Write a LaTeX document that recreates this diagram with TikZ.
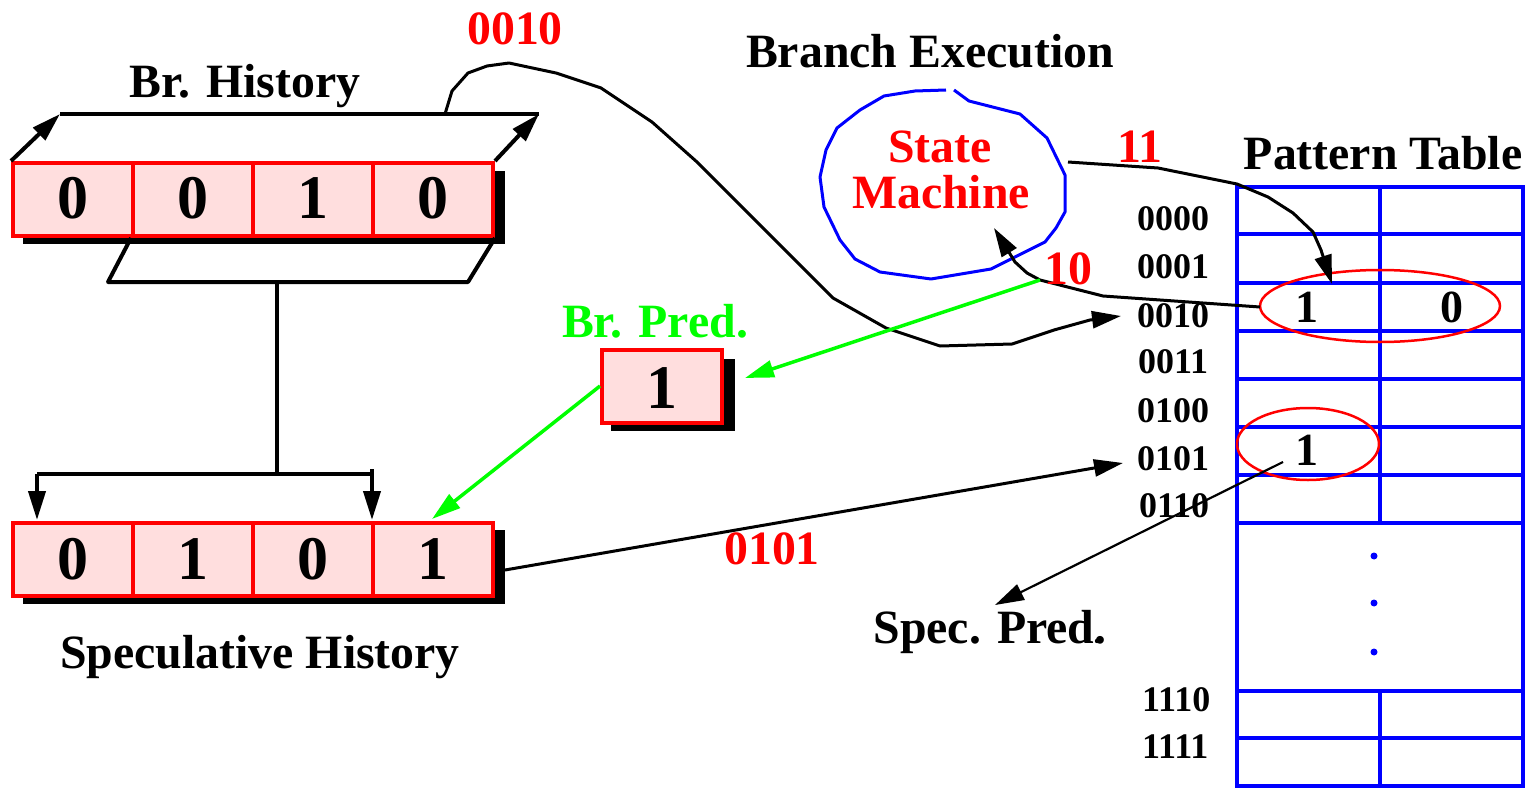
\documentclass[tikz,border=0pt]{standalone}
\usepackage{fontspec}
\setmainfont{Liberation Serif}
\usetikzlibrary{arrows.meta}
\definecolor{cellpink}{RGB}{255,222,222}
\definecolor{pgreen}{RGB}{0,255,0}
\definecolor{pred}{RGB}{255,0,0}
\definecolor{pblue}{RGB}{0,0,255}
\begin{document}
\begin{tikzpicture}[x=1pt,y=-1pt,
  txt/.style={font=\fontsize{47.8}{52}\selectfont\bfseries, inner sep=0pt, anchor=base},
  rowlbl/.style={font=\fontsize{36}{40}\selectfont\bfseries, inner sep=0pt, anchor=base west},
  bigdig/.style={font=\fontsize{62}{64}\selectfont\bfseries, inner sep=0pt, anchor=base},
  tabdig/.style={font=\fontsize{46}{50}\selectfont\bfseries, inner sep=0pt, anchor=base},
  cellbox/.style={draw=pred, line width=4pt, fill=cellpink, minimum width=120pt, minimum height=73pt, inner sep=0pt},
  tip/.style={-{Triangle[length=29pt,width=17pt]}},
  blk/.style={draw=black, line width=3pt, line join=round},
  thk/.style={draw=black, line width=4pt, line join=round},
  grn/.style={draw=pgreen, line width=3.5pt},
  grid/.style={draw=pblue, line width=4pt},
]
\useasboundingbox (0,0) rectangle (1526,789);

% ---------- Br. History register ----------
\node[txt] (bh) at (245,98) {Br. History};
\coordinate (tl) at (60,114);
\coordinate (tr) at (539,114);
\coordinate (pl) at (108,282);
\coordinate (pr) at (468,282);
\fill[black] (23,171) rectangle (505,244);
\node[cellbox] (h1) at (73,199.5) {};
\node[cellbox] (h2) at (193,199.5) {};
\node[cellbox] (h3) at (313,199.5) {};
\node[cellbox] (h4) at (433,199.5) {};
\node[bigdig] at (73,218) {0};
\node[bigdig] at (193,218) {0};
\node[bigdig] at (313,218) {1};
\node[bigdig] at (433,218) {0};
\draw[thk] (tl) -- (tr);
\draw[thk, tip] (h1.north west) -- (tl);
\draw[thk, tip] (h4.north east) -- (tr);
\draw[thk] (h2.south west) -- (pl) -- (pr) -- (h4.south east);

% ---------- bracket to speculative history ----------
\coordinate (vt) at (277,282);
\coordinate (vb) at (277,474);
\coordinate (bl) at (37,474);
\coordinate (br) at (372,474);
\coordinate (brtop) at (372,469);
\coordinate (bltip) at (37,520);
\coordinate (brtip) at (372,520);
\draw[thk] (vt) -- (vb);
\draw[thk] (bl) -- (br);
\draw[thk, tip] (bl) -- (bltip);
\draw[thk, tip] (brtop) -- (brtip);

% ---------- Speculative History register ----------
\fill[black] (23,530) rectangle (505,604);
\node[cellbox] (s1) at (73,559) {};
\node[cellbox] (s2) at (193,559) {};
\node[cellbox] (s3) at (313,559) {};
\node[cellbox] (s4) at (433,559) {};
\node[bigdig] at (73,579) {0};
\node[bigdig] at (193,579) {1};
\node[bigdig] at (313,579) {0};
\node[bigdig] at (433,579) {1};
\node[txt] (sh) at (260,668) {Speculative History};

% ---------- Br. Pred ----------
\node[txt, text=pgreen] (bpl) at (655,337) {Br. Pred.};
\fill[black] (611,359) rectangle (735,431);
\node[cellbox] (bp) at (662,386) {};
\node[bigdig] at (662,408) {1};

% ---------- State machine ----------
\node[txt] (be) at (930,68) {Branch Execution};
\draw[pblue, line width=3pt, line join=round]
  (954,90) -- (969,101) -- (1020,114) -- (1047,138) -- (1065,175) -- (1065,212)
  -- (1056,228) -- (1045,242) -- (991,269) -- (931,279) -- (880,272) -- (855,259)
  -- (840,240) -- (824,207) -- (820,177) -- (826,150) -- (837,128) -- (860,110)
  -- (884,96) -- (915,91) -- (946,90);
\node[txt, text=pred] (sm1) at (940,162) {State};
\node[txt, text=pred] (sm2) at (941,208) {Machine};

% ---------- Pattern table ----------
\node[txt] (pt) at (1383,169) {Pattern Table};
\draw[grid] (1237,187) rectangle (1523,786);
\foreach \yy in {234,283,331,379,427,475,523,691,738}
  \draw[grid] (1237,\yy) -- (1523,\yy);
\draw[grid] (1380,187) -- (1380,523);
\draw[grid] (1380,691) -- (1380,786);
\foreach \yy in {556,603,652}
  \fill[pblue] (1374,\yy) circle[radius=3.5pt];

\node[rowlbl] (r0) at (1137,230) {0000};
\node[rowlbl] (r1) at (1137,278) {0001};
\node[rowlbl] (r2) at (1137,327) {0010};
\node[rowlbl] (r3) at (1138,373) {0011};
\node[rowlbl] (r4) at (1137,422) {0100};
\node[rowlbl] (r5) at (1137,470) {0101};
\node[rowlbl] (r6) at (1139,517) {0110};
\node[rowlbl] (r14) at (1142,711) {1110};
\node[rowlbl] (r15) at (1142,758) {1111};

\node[tabdig] (t21) at (1307,322) {1};
\node[tabdig] (t22) at (1452,322) {0};
\node[tabdig] (t51) at (1307,465) {1};
\draw[pred, line width=2.5pt] (1380,306) ellipse [x radius=120pt, y radius=36pt];
\draw[pred, line width=2.5pt] (1308,444) ellipse [x radius=71pt, y radius=36pt];

\fill[black] (1097,641) circle[radius=2.2pt];

% ---------- connectors ----------
\coordinate (c0010s) at (445,114);
\coordinate (c0010e) at (1121,316);
\draw[blk, tip] (c0010s) -- (452,91) -- (468,73) -- (487,66) -- (509,63) -- (556,73)
  -- (601,88) -- (652,122) -- (697,162) -- (833,298) -- (886,328) -- (940,346)
  -- (1012,344) -- (1054,330) -- (1090,320) -- (c0010e);
\node[txt, text=pred] (l0010) at (515,45) {0010};

\coordinate (c11s) at (1068,162);
\coordinate (c11e) at (1332,284);
\draw[blk, tip] (c11s) -- (1158,168) -- (1237,184) -- (1268,197) -- (1293,213)
  -- (1313,232) -- (1321,250) -- (c11e);
\node[txt, text=pred] (l11) at (1140,162) {11};

\coordinate (c10s) at (1260,307);
\coordinate (c10e) at (994,228);
\draw[blk, tip] (c10s) -- (1103,296) -- (1040,280) -- (1027,273) -- (1015,262) -- (c10e);
\node[txt, text=pred] (l10) at (1068,284) {10};

\coordinate (g1s) at (1040,280);
\coordinate (g1e) at (745,378);
\draw[grn, tip] (g1s) -- (g1e);
\coordinate (g2e) at (432,519);
\draw[grn, tip] (bp.west) -- (g2e);

\coordinate (c0101s) at (505,570);
\coordinate (c0101e) at (1123,463);
\draw[blk, tip] (c0101s) -- (c0101e);
\node[txt, text=pred] (l0101) at (772,564) {0101};

\coordinate (sps) at (1283,462);
\coordinate (spe) at (995,605);
\draw[blk, line width=2.2pt, tip] (sps) -- (spe);
\node[txt] (sp) at (990,643) {Spec. Pred.};
\end{tikzpicture}
\end{document}
